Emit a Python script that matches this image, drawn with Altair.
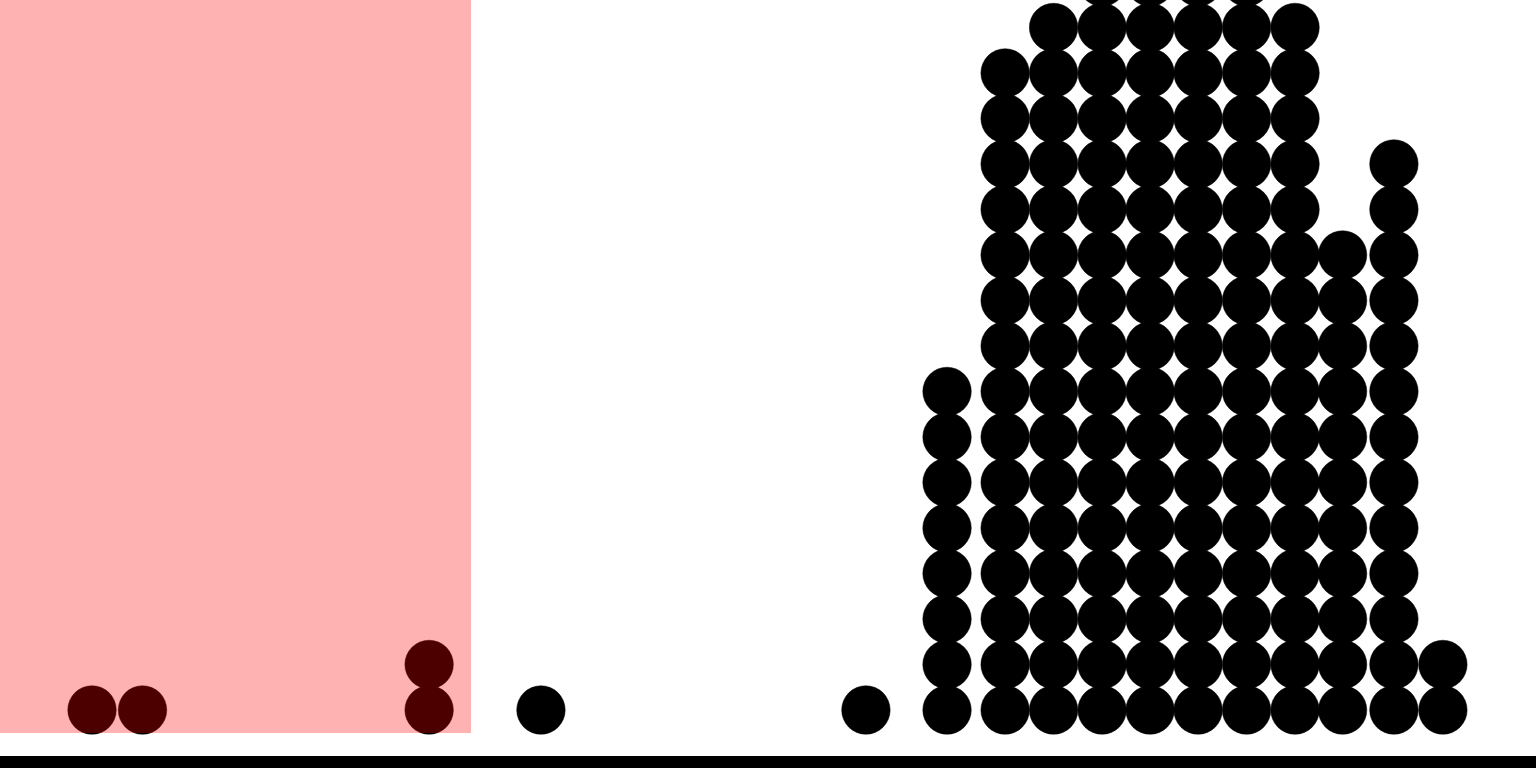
import altair as alt
import pandas as pd

# column positions (data units) and number of stacked dots in each column
col_x = [1.917, 2.969, 8.94, 11.27, 18.04, 19.73, 20.94, 21.95, 22.96, 23.96,
         24.96, 25.97, 26.98, 27.97, 29.04, 30.06]
col_count = [1, 1, 2, 1, 1, 8, 15, 16, 17, 17, 17, 17, 16, 11, 13, 2]

# highlighted region
region_x = [0.0]
region_x2 = [9.8125]
region_y = [15.604]
region_y2 = [-0.5055]

rows = []
for x, n in zip(col_x, col_count):
    for k in range(n):
        rows.append({"x": x, "k": k})
dots = pd.DataFrame(rows)
region = pd.DataFrame({"x": region_x, "x2": region_x2, "y": region_y, "y2": region_y2})

xs = alt.Scale(domain=[0, 32], nice=False, zero=False)
ys = alt.Scale(domain=[-1.2747, 15.604], nice=False, zero=False)

points = alt.Chart(dots).mark_circle(size=2350, color="black", opacity=1,
                                     stroke="black", strokeWidth=0.5).encode(
    x=alt.X("x:Q", scale=xs, axis=None),
    y=alt.Y("k:Q", scale=ys, axis=None),
)

rect = alt.Chart(region).mark_rect(color="red", opacity=0.3).encode(
    x=alt.X("x:Q", scale=xs, axis=None),
    x2="x2:Q",
    y=alt.Y("y:Q", scale=ys, axis=None),
    y2="y2:Q",
)

baseline = alt.Chart(region).mark_rule(color="black", strokeWidth=12).encode(
    x=alt.value(0), x2=alt.value(1536), y=alt.value(762)
)

chart = alt.layer(points, rect, baseline).properties(
    width=1536, height=768,
    autosize=alt.AutoSizeParams(type="none"),
    padding=0,
).configure_view(stroke=None, clip=True)

chart.save("out.html", embed_options={"renderer": "svg", "actions": False})
